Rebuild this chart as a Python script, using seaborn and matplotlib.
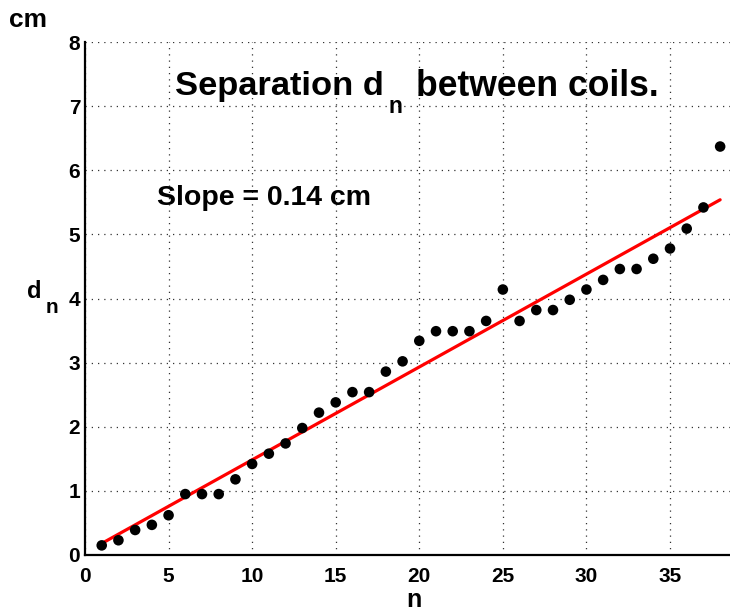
import numpy as np
import pandas as pd
import matplotlib
matplotlib.use("Agg")
import matplotlib.pyplot as plt
import seaborn as sns

# ---- data ----
n_values = list(range(1, 39))
d_values = [0.15, 0.23, 0.39, 0.47, 0.62, 0.95, 0.95, 0.95, 1.18, 1.42,
            1.58, 1.74, 1.98, 2.22, 2.38, 2.54, 2.54, 2.86, 3.02, 3.34,
            3.49, 3.49, 3.49, 3.65, 4.14, 3.65, 3.82, 3.82, 3.98, 4.14,
            4.29, 4.46, 4.46, 4.62, 4.78, 5.09, 5.42, 6.37]
x_ticks = [0, 5, 10, 15, 20, 25, 30, 35]
y_ticks = [0, 1, 2, 3, 4, 5, 6, 7, 8]
title_parts = ["Separation d", "n", "between coils."]
slope_text = "Slope = 0.14 cm"

df = pd.DataFrame({"n": n_values, "d": d_values})

sns.set_style("white")
plt.rcParams["font.family"] = ["Liberation Sans", "DejaVu Sans"]
plt.rcParams["font.weight"] = "bold"
plt.rcParams["text.color"] = "black"

W, H = 730, 613
fig = plt.figure(figsize=(W / 100, H / 100), dpi=100)
ax = fig.add_axes([85 / W, 1 - 555 / H, (W - 85) / W, (555 - 42) / H])

sns.regplot(data=df, x="n", y="d", ax=ax, ci=None, truncate=True,
            scatter_kws=dict(color="black", s=58, edgecolor="none", zorder=4, alpha=1),
            line_kws=dict(color="red", lw=2.3, zorder=3))

ax.set_xlim(0, (W - 85) / ((670 - 85) / 35))
ax.set_ylim(0, 8)
ax.set_xticks(x_ticks)
ax.set_yticks(y_ticks)
ax.set_xlabel("")
ax.set_ylabel("")
ax.tick_params(direction="in", length=5, width=1.5, labelsize=15,
               colors="black")
ax.tick_params(axis="x", pad=9)
ax.tick_params(axis="y", pad=3.5)
for lab in ax.get_xticklabels() + ax.get_yticklabels():
    lab.set_fontweight("bold")
for s in ["top", "right"]:
    ax.spines[s].set_visible(False)
for s in ["left", "bottom"]:
    ax.spines[s].set_linewidth(1.6)
    ax.spines[s].set_color("black")
ax.grid(True, color="0.2", linestyle=(0, (1, 4)), linewidth=0.9)
ax.set_axisbelow(True)

def ftext(x, y, s, size, ha="left"):
    fig.text(x / W, 1 - y / H, s, fontsize=size, fontweight="bold",
             va="baseline", ha=ha, color="black")

ftext(384, 95.5, title_parts[0], 24.8, ha="right")
ftext(388, 113, title_parts[1], 16.5)
ftext(416, 95.5, title_parts[2], 25.6)
ftext(157, 205, slope_text, 20.5)
ftext(9, 27, "cm", 19)
ftext(27, 298, "d", 17)
ftext(46, 313, "n", 15)
ftext(413.5, 607, "n", 18, ha="center")

fig.savefig("out.png", dpi=100)
